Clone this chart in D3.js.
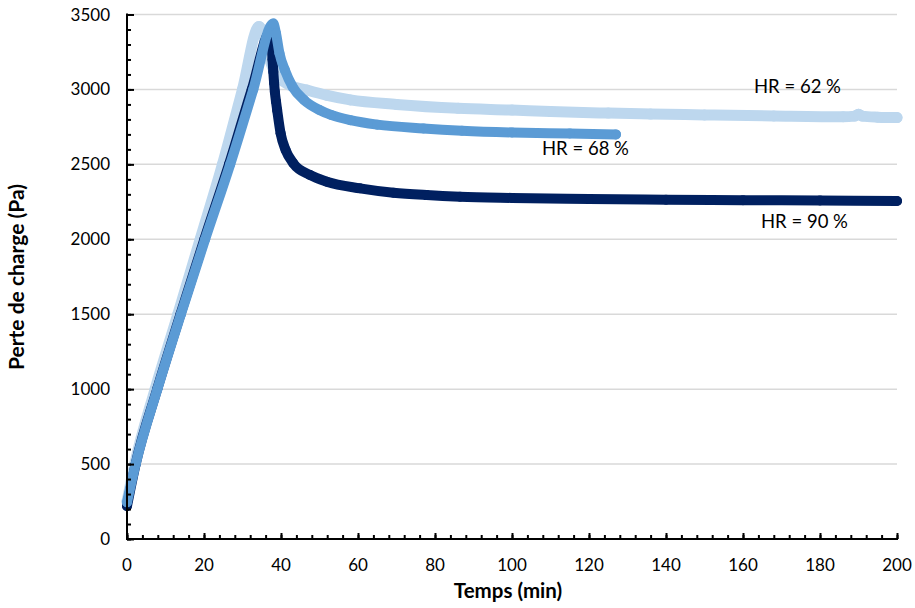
<!DOCTYPE html>
<html>
<head>
<meta charset="utf-8">
<script src="https://cdn.jsdelivr.net/npm/d3@7/dist/d3.min.js"></script>
<style>
  html, body { margin: 0; padding: 0; background: #fff; }
  svg { display: block; }
  text { font-family: Lato, "Open Sans", sans-serif; fill: #000; }
</style>
</head>
<body>
<svg id="chart" width="915" height="608"></svg>
<script>
// ---- data ----
const timeHR62 = [0, 2, 7.3, 13.2, 19, 24.8, 30, 34.3, 35.8, 37.1, 38.9, 42.3, 46.7, 52, 58, 70, 86, 100, 110, 125, 136, 150, 168, 186, 189, 190, 191, 195, 200];
const valHR62  = [250, 500, 1000, 1500, 2000, 2500, 3000, 3420, 3330, 3196, 3096, 3029, 2996, 2960, 2930, 2900, 2874, 2862, 2852, 2842, 2836, 2830, 2823, 2818, 2822, 2834, 2822, 2815, 2812];

const timeHR68 = [0, 2.25, 7.9, 14, 20.3, 26.8, 32.8, 38, 38.7, 39.6, 41, 43, 46, 50, 53, 58, 65, 77, 87, 100, 115, 127];
const valHR68  = [245, 500, 1000, 1500, 2000, 2500, 3000, 3440, 3374, 3241, 3129, 3018, 2929, 2863, 2830, 2795, 2765, 2740, 2725, 2713, 2706, 2700];

const timeHR90 = [0, 2.25, 7.85, 13.9, 20.1, 26.5, 32.4, 37.4, 37.6, 37.8, 38, 38.2, 38.4, 38.7, 39, 39.9, 41.2, 43.2, 47.5, 51.9, 60.5, 69.2, 77.8, 86.5, 100, 120, 140, 160, 180, 200];
const valHR90  = [220, 500, 1000, 1500, 2000, 2500, 3000, 3390, 3300, 3200, 3118, 3045, 2985, 2920, 2863, 2707, 2596, 2507, 2429, 2384, 2340, 2311, 2295, 2284, 2276, 2269, 2264, 2261, 2259, 2256];

const seriesNames = ["HR = 62 %", "HR = 90 %", "HR = 68 %"];
const xTicks = [0, 20, 40, 60, 80, 100, 120, 140, 160, 180, 200];
const yTicks = [0, 500, 1000, 1500, 2000, 2500, 3000, 3500];
const xTitle = "Temps (min)";
const yTitle = "Perte de charge (Pa)";

// ---- drawing ----
const svg = d3.select("#chart");
const x = d3.scaleLinear().domain([0, 200]).range([127, 897]);
const y = d3.scaleLinear().domain([0, 3500]).range([539, 14.5]);

// gridlines
svg.append("g").selectAll("line")
  .data(yTicks.filter(d => d > 0))
  .join("line")
  .attr("x1", x(0)).attr("x2", x(200))
  .attr("y1", d => y(d)).attr("y2", d => y(d))
  .attr("stroke", "#d9d9d9").attr("stroke-width", 1.5);

// series
const series = [
  { name: seriesNames[0], t: timeHR62, v: valHR62, color: "#BDD7EE", w: 11 },
  { name: seriesNames[1], t: timeHR90, v: valHR90, color: "#002060", w: 10 },
  { name: seriesNames[2], t: timeHR68, v: valHR68, color: "#5B9BD5", w: 10 }
];
const line = d3.line().x(d => x(d[0])).y(d => y(d[1])).curve(d3.curveMonotoneX);
series.forEach(s => {
  const pts = s.t.map((t, i) => [t, s.v[i]]);
  const g = svg.append("g");
  g.append("path").datum(pts)
    .attr("d", line)
    .attr("fill", "none")
    .attr("stroke", s.color)
    .attr("stroke-width", s.w)
    .attr("stroke-linecap", "round")
    .attr("stroke-linejoin", "round");
  g.selectAll("circle").data(pts).join("circle")
    .attr("cx", d => x(d[0])).attr("cy", d => y(d[1]))
    .attr("r", s.w / 2).attr("fill", s.color);
});

// axes (ticks inside)
const xAxis = d3.axisTop(x).tickValues(xTicks).tickSize(6).tickFormat("");
const xMinor = d3.axisTop(x).tickValues(d3.range(0, 201, 4)).tickSize(4).tickFormat("");
const yAxis = d3.axisRight(y).tickValues(yTicks).tickSize(7).tickFormat("");
const yMinor = d3.axisRight(y).tickValues(d3.range(0, 3501, 100)).tickSize(4).tickFormat("");

function styleAxis(g) {
  g.select(".domain").remove();
  g.selectAll("line").attr("stroke", "#000").attr("stroke-width", 2);
}
svg.append("g").attr("transform", `translate(0,${y(0)})`).call(xMinor).call(styleAxis);
svg.append("g").attr("transform", `translate(0,${y(0)})`).call(xAxis).call(styleAxis);
svg.append("g").attr("transform", `translate(${x(0)},0)`).call(yMinor).call(styleAxis);
svg.append("g").attr("transform", `translate(${x(0)},0)`).call(yAxis).call(styleAxis);

// axis lines
svg.append("line").attr("x1", x(0)).attr("x2", x(200) + 1).attr("y1", y(0)).attr("y2", y(0))
  .attr("stroke", "#000").attr("stroke-width", 2);
svg.append("line").attr("x1", x(0)).attr("x2", x(0)).attr("y1", y(0) + 1).attr("y2", y(3500) - 1)
  .attr("stroke", "#000").attr("stroke-width", 2);

// tick labels
svg.append("g").selectAll("text").data(xTicks).join("text")
  .attr("x", d => x(d)).attr("y", 571)
  .attr("text-anchor", "middle").attr("font-size", 17)
  .text(d => d);
svg.append("g").selectAll("text").data(yTicks).join("text")
  .attr("x", 110).attr("y", d => y(d) + 6)
  .attr("text-anchor", "end").attr("font-size", 17)
  .text(d => d);

// titles
svg.append("text").attr("x", 508).attr("y", 598)
  .attr("text-anchor", "middle").attr("font-size", 20.5).attr("font-weight", "bold")
  .text(xTitle);
svg.append("text").attr("transform", "translate(24,277) rotate(-90)")
  .attr("text-anchor", "middle").attr("font-size", 21).attr("font-weight", "bold")
  .text(yTitle);

// series labels
const labelPos = [[754, 93], [761, 228], [542, 155]];
series.forEach((s, i) => {
  svg.append("text").attr("x", labelPos[i][0]).attr("y", labelPos[i][1])
    .attr("font-size", 18.5).text(s.name);
});
</script>
</body>
</html>
